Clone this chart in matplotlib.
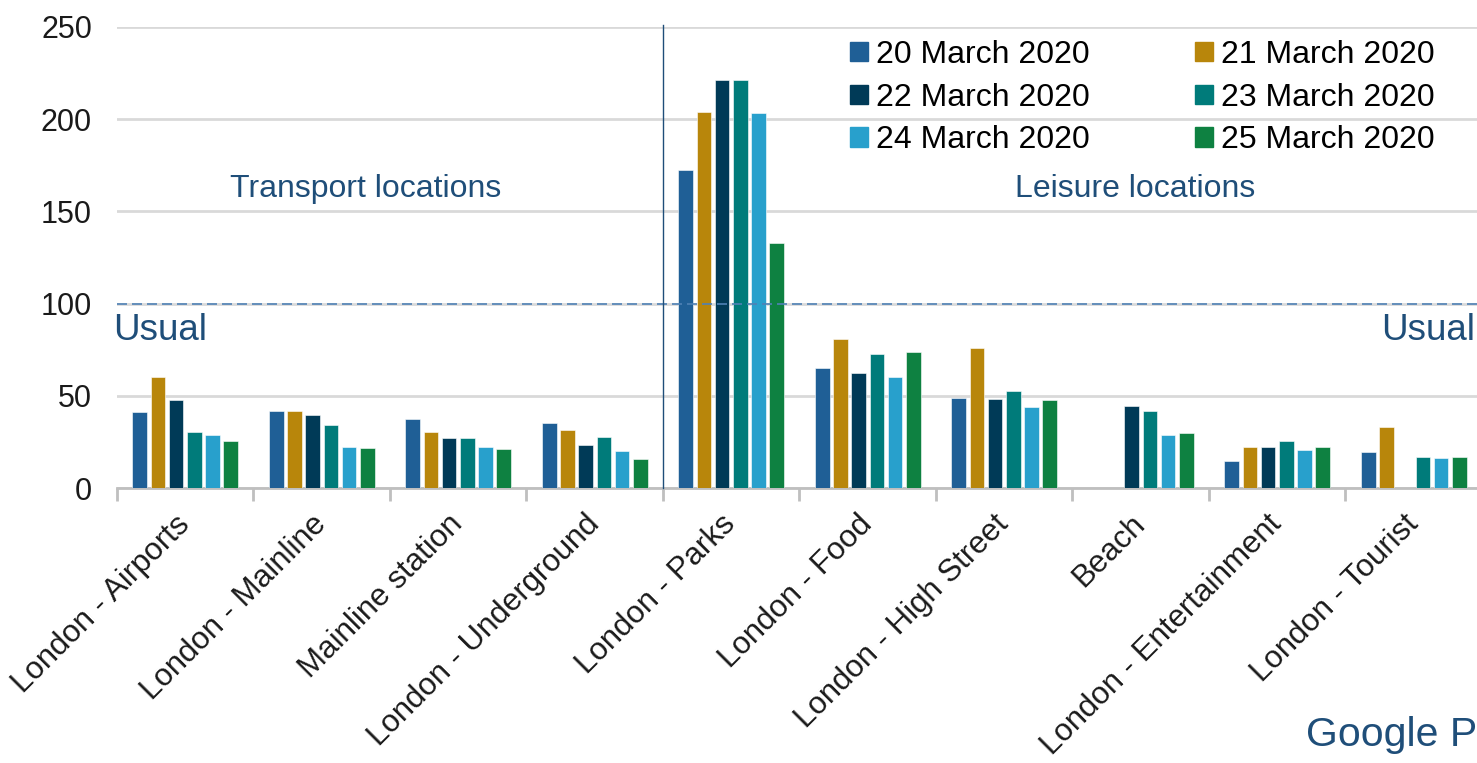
import numpy as np
import matplotlib
matplotlib.use("Agg")
import matplotlib.pyplot as plt
from matplotlib.patches import Patch

# data
categories = ["London - Airports", "London - Mainline", "Mainline station",
              "London - Underground", "London - Parks", "London - Food",
              "London - High Street", "Beach", "London - Entertainment",
              "London - Tourist"]
dates = ["20 March 2020", "21 March 2020", "22 March 2020",
         "23 March 2020", "24 March 2020", "25 March 2020"]
mar20 = [41, 41.5, 37.5, 35.5, 172.5, 65, 49, np.nan, 14.5, 19.5]
mar21 = [60, 42, 30.5, 31.5, 204, 81, 76, np.nan, 22.5, 33]
mar22 = [47.5, 39.5, 27, 23.5, 221.5, 62.5, 48, 44.5, 22.5, np.nan]
mar23 = [30.5, 34, 27, 27.5, 221.5, 72.5, 52.5, 42, 25.5, 17]
mar24 = [28.5, 22.5, 22, 20, 203.5, 60, 44, 28.5, 20.5, 16.5]
mar25 = [25.5, 21.5, 21, 15.5, 133, 74, 47.5, 30, 22, 17]
series = [mar20, mar21, mar22, mar23, mar24, mar25]
colors = ["#1F5F96", "#B8860B", "#003A57", "#007B7A", "#28A0CC", "#0E8141"]

plt.rcParams['font.family'] = ['Liberation Sans', 'DejaVu Sans']

fig = plt.figure(figsize=(14.77, 7.63), dpi=100)
ax = fig.add_axes([117/1477, 1 - 488/763, 1365/1477, 461/763])

x = np.arange(len(categories))
slot = 0.8 / len(series)
for i, vals in enumerate(series):
    ax.bar(x - 0.4 + slot*(i + 0.5), vals, width=slot*0.8, color=colors[i],
           edgecolor='white', linewidth=0.4, zorder=3)

ax.set_xlim(-0.5, len(categories) - 0.5)
ax.set_ylim(0, 250)
ax.set_yticks([0, 50, 100, 150, 200, 250])
ax.yaxis.grid(True, color='#D9D9D9', linewidth=2, zorder=0)
ax.tick_params(axis='y', length=0, pad=18, labelsize=22, labelcolor='#1a1a1a')

# category labels at centres, group separators as minor ticks
ax.set_xticks(x)
ax.set_xticklabels(categories, rotation=45, ha='right', va='center',
                   rotation_mode='anchor', fontsize=22.5, color='#1a1a1a')
ax.set_xticks(np.arange(len(categories) + 1) - 0.5, minor=True)
ax.tick_params(axis='x', which='major', length=0, pad=23)
ax.tick_params(axis='x', which='minor', length=9, width=2, color='#BFBFBF')

for s in ['top', 'right', 'left']:
    ax.spines[s].set_visible(False)
ax.spines['bottom'].set_color('#BFBFBF')
ax.spines['bottom'].set_linewidth(2)

# usual level and transport / leisure divider
ax.axhline(100, color='#4F81B5', linewidth=1.2, linestyle=(0, (6, 3)), zorder=4)
ax.axvline(3.5, color='#1F4E79', linewidth=1, zorder=4, ymax=1.005, clip_on=False)

txtc = '#1F4E79'
ax.text(1.32, 162, "Transport locations", ha='center', va='center', fontsize=23, color=txtc)
ax.text(6.96, 162, "Leisure locations", ha='center', va='center', fontsize=23, color=txtc)
ax.text(-0.53, 85.5, "Usual", ha='left', va='center', fontsize=26.5, color=txtc)
ax.text(9.45, 85.5, "Usual", ha='right', va='center', fontsize=26.5, color=txtc)
fig.text(1.0, 1 - 735/763, "Google P", ha='right', va='center', fontsize=29.5, color=txtc)

# legend, two columns filled row by row
handles = [Patch(color=c, label=d) for c, d in zip(colors, dates)]
order = [0, 2, 4, 1, 3, 5]
ax.legend([handles[k] for k in order], [dates[k] for k in order], ncol=2,
          frameon=False, fontsize=23, loc='upper left', bbox_to_anchor=(0.528, 1.0),
          handlelength=0.55, handleheight=0.55, handletextpad=0.25,
          columnspacing=3.3, labelspacing=0.4, borderaxespad=0)

fig.savefig("out.png", dpi=100)
